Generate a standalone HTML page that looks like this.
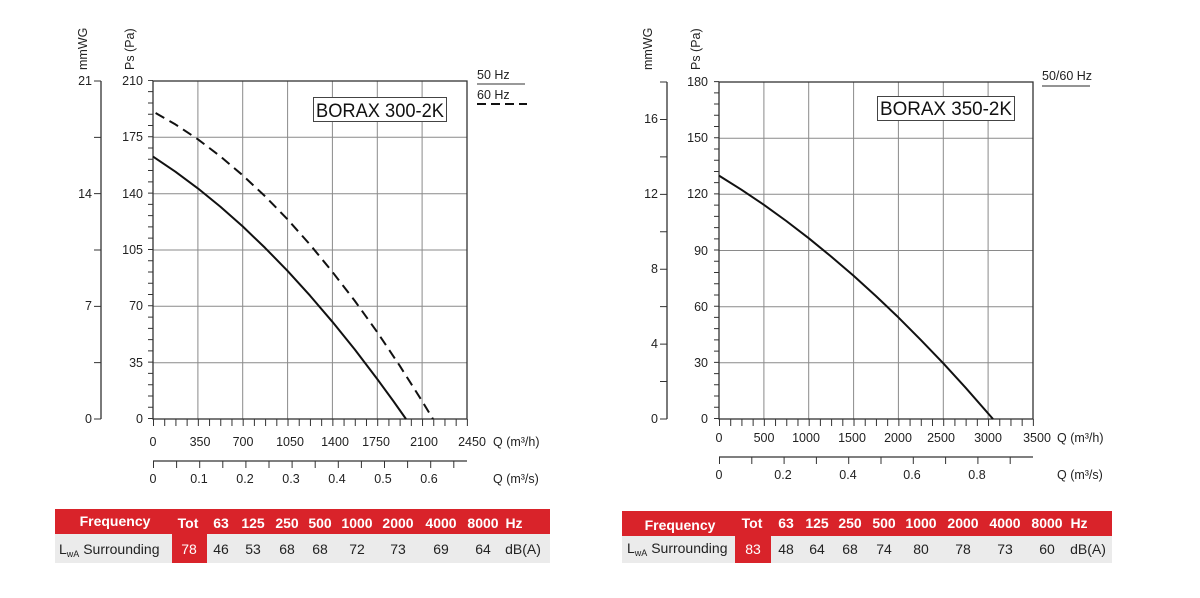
<!DOCTYPE html>
<html><head><meta charset="utf-8"><style>
body{margin:0;background:#fff;}
svg{display:block;font-family:"Liberation Sans",sans-serif;}
.t{font-size:12.5px;fill:#222}
.g{stroke:#8a8a8a;stroke-width:1;fill:none}
.a{stroke:#333;stroke-width:1.3;fill:none}
.h{font-family:"Liberation Sans Narrow","Liberation Sans",sans-serif;font-size:14px;fill:#fff;font-weight:bold}
.d{font-family:"Liberation Sans Narrow","Liberation Sans",sans-serif;font-size:14px;fill:#222}
</style></head><body>
<svg width="1200" height="598" viewBox="0 0 1200 598" xmlns="http://www.w3.org/2000/svg">
<rect width="1200" height="598" fill="#fff"/>
<!-- ===== Chart 1 ===== -->
<g>
<path class="g" d="M197.9 81V419M242.7 81V419M287.6 81V419M332.4 81V419M377.3 81V419M422.1 81V419M153 137.3H467M153 193.7H467M153 250H467M153 306.3H467M153 362.7H467"/>
<rect x="153" y="81" width="314" height="338" class="a"/>
<line x1="150.5" y1="419" x2="150.5" y2="80" stroke="#333" stroke-width="5" stroke-dasharray="1 10.27"/>
<line x1="153" y1="422.5" x2="468" y2="422.5" stroke="#333" stroke-width="7" stroke-dasharray="1 10.21"/>
<line x1="101" y1="81" x2="101" y2="419" class="a"/>
<line x1="97.5" y1="419.5" x2="97.5" y2="80" stroke="#333" stroke-width="7" stroke-dasharray="1 55.33"/>
<text class="t" x="92" y="423" text-anchor="end">0</text>
<text class="t" x="92" y="310" text-anchor="end">7</text>
<text class="t" x="92" y="198" text-anchor="end">14</text>
<text class="t" x="92" y="85" text-anchor="end">21</text>
<text class="t" transform="translate(87,70) rotate(-90)">mmWG</text>
<text class="t" transform="translate(134,70) rotate(-90)">Ps (Pa)</text>
<g text-anchor="end">
<text class="t" x="143" y="423">0</text>
<text class="t" x="143" y="367">35</text>
<text class="t" x="143" y="310">70</text>
<text class="t" x="143" y="254">105</text>
<text class="t" x="143" y="198">140</text>
<text class="t" x="143" y="141">175</text>
<text class="t" x="143" y="85">210</text>
</g>
<g text-anchor="middle">
<text class="t" x="153" y="446">0</text>
<text class="t" x="200" y="446">350</text>
<text class="t" x="243" y="446">700</text>
<text class="t" x="290" y="446">1050</text>
<text class="t" x="335" y="446">1400</text>
<text class="t" x="376" y="446">1750</text>
<text class="t" x="424" y="446">2100</text>
<text class="t" x="472" y="446">2450</text>
</g>
<text class="t" x="493" y="446">Q (m³/h)</text>
<line x1="153" y1="461" x2="467" y2="461" class="a"/>
<line x1="153" y1="464.5" x2="460" y2="464.5" stroke="#333" stroke-width="7" stroke-dasharray="1 22.1"/>
<g text-anchor="middle">
<text class="t" x="153" y="483">0</text>
<text class="t" x="199" y="483">0.1</text>
<text class="t" x="245" y="483">0.2</text>
<text class="t" x="291" y="483">0.3</text>
<text class="t" x="337" y="483">0.4</text>
<text class="t" x="383" y="483">0.5</text>
<text class="t" x="429" y="483">0.6</text>
</g>
<text class="t" x="493" y="483">Q (m³/s)</text>
<rect x="313.5" y="97.5" width="133" height="24" fill="#fff" stroke="#444"/>
<text x="316" y="117" font-size="19" fill="#111" textLength="128" lengthAdjust="spacingAndGlyphs">BORAX 300-2K</text>
<text class="t" x="477" y="79">50 Hz</text>
<line x1="477" y1="84" x2="525" y2="84" stroke="#333" stroke-width="1"/>
<text class="t" x="477" y="99">60 Hz</text>
<line x1="477" y1="104" x2="527" y2="104" stroke="#111" stroke-width="2" stroke-dasharray="9 5"/>
<polyline points="153,156.6 175.4,171.7 197.9,188.4 220.3,206.6 242.7,226.4 265.1,247.9 287.6,270.9 310,295.6 332.4,321.8 354.9,349.6 377.3,379.1 393.3,401 406,419" fill="none" stroke="#111" stroke-width="2" stroke-linejoin="round"/>
<polyline points="155.6,113 175.4,124.4 197.9,139.3 220.3,156.3 242.7,175.3 265.1,196.3 287.6,219.4 310,244.6 332.4,271.9 354.9,301 377.3,332.2 399.7,365.7 422.1,401.1 433,419" fill="none" stroke="#111" stroke-width="2" stroke-dasharray="10 6" stroke-linejoin="round"/>
</g>
<!-- ===== Chart 2 ===== -->
<g>
<path class="g" d="M763.9 82V419M808.7 82V419M853.6 82V419M898.4 82V419M943.3 82V419M988.1 82V419M719 138.2H1033M719 194.3H1033M719 250.5H1033M719 306.7H1033M719 362.8H1033"/>
<rect x="719" y="82" width="314" height="337" class="a"/>
<line x1="716.5" y1="419" x2="716.5" y2="81" stroke="#333" stroke-width="5" stroke-dasharray="1 10.23"/>
<line x1="719" y1="422.5" x2="1034" y2="422.5" stroke="#333" stroke-width="7" stroke-dasharray="1 10.21"/>
<line x1="667" y1="82" x2="667" y2="419" class="a"/>
<line x1="663.5" y1="419.5" x2="663.5" y2="81" stroke="#333" stroke-width="7" stroke-dasharray="1 36.44"/>
<g text-anchor="end">
<text class="t" x="658" y="423">0</text>
<text class="t" x="658" y="348">4</text>
<text class="t" x="658" y="273">8</text>
<text class="t" x="658" y="198">12</text>
<text class="t" x="658" y="123">16</text>
</g>
<text class="t" transform="translate(652,70) rotate(-90)">mmWG</text>
<text class="t" transform="translate(700,70) rotate(-90)">Ps (Pa)</text>
<g text-anchor="end">
<text class="t" x="708" y="423">0</text>
<text class="t" x="708" y="367">30</text>
<text class="t" x="708" y="311">60</text>
<text class="t" x="708" y="255">90</text>
<text class="t" x="708" y="198">120</text>
<text class="t" x="708" y="142">150</text>
<text class="t" x="708" y="86">180</text>
</g>
<g text-anchor="middle">
<text class="t" x="719" y="442">0</text>
<text class="t" x="764" y="442">500</text>
<text class="t" x="806" y="442">1000</text>
<text class="t" x="852" y="442">1500</text>
<text class="t" x="898" y="442">2000</text>
<text class="t" x="941" y="442">2500</text>
<text class="t" x="988" y="442">3000</text>
<text class="t" x="1037" y="442">3500</text>
</g>
<text class="t" x="1057" y="442">Q (m³/h)</text>
<line x1="719" y1="457" x2="1033" y2="457" class="a"/>
<line x1="719" y1="460.5" x2="1030" y2="460.5" stroke="#333" stroke-width="7" stroke-dasharray="1 31.3"/>
<g text-anchor="middle">
<text class="t" x="719" y="479">0</text>
<text class="t" x="783" y="479">0.2</text>
<text class="t" x="848" y="479">0.4</text>
<text class="t" x="912" y="479">0.6</text>
<text class="t" x="977" y="479">0.8</text>
</g>
<text class="t" x="1057" y="479">Q (m³/s)</text>
<rect x="877.5" y="96.5" width="137" height="24" fill="#fff" stroke="#444"/>
<text x="880" y="115" font-size="19" fill="#111" textLength="132" lengthAdjust="spacingAndGlyphs">BORAX 350-2K</text>
<text class="t" x="1042" y="80">50/60 Hz</text>
<line x1="1042" y1="86" x2="1090" y2="86" stroke="#555" stroke-width="1.3"/>
<polyline points="719,175.6 741.4,189.7 763.9,204.8 786.3,221 808.7,238.2 831.1,256.5 853.6,275.8 876,296.1 898.4,317.4 920.8,339.9 943.3,363.3 965.7,387.8 993,419" fill="none" stroke="#111" stroke-width="2" stroke-linejoin="round"/>
</g>
<!-- ===== Table 1 ===== -->
<rect x="55" y="509" width="495" height="25" fill="#d9232a"/>
<rect x="55" y="534" width="495" height="29" fill="#ebebeb"/>
<rect x="172" y="534" width="35" height="29" fill="#d9232a"/>
<g text-anchor="middle">
<text class="h" x="115" y="526">Frequency</text>
<text class="h" x="188" y="528">Tot</text>
<text class="h" x="221" y="528">63</text>
<text class="h" x="253" y="528">125</text>
<text class="h" x="287" y="528">250</text>
<text class="h" x="320" y="528">500</text>
<text class="h" x="357" y="528">1000</text>
<text class="h" x="398" y="528">2000</text>
<text class="h" x="441" y="528">4000</text>
<text class="h" x="483" y="528">8000</text>
<text class="h" x="514" y="528">Hz</text>
<text class="d" x="189" y="554" style="fill:#fff">78</text>
<text class="d" x="221" y="554">46</text>
<text class="d" x="253" y="554">53</text>
<text class="d" x="287" y="554">68</text>
<text class="d" x="320" y="554">68</text>
<text class="d" x="357" y="554">72</text>
<text class="d" x="398" y="554">73</text>
<text class="d" x="441" y="554">69</text>
<text class="d" x="483" y="554">64</text>
<text class="d" x="523" y="554">dB(A)</text>
</g>
<text class="d" x="59" y="554">L<tspan font-size="9" dy="3">wA</tspan><tspan dy="-3"> Surrounding</tspan></text>
<!-- ===== Table 2 ===== -->
<rect x="622" y="511" width="490" height="25" fill="#d9232a"/>
<rect x="622" y="536" width="490" height="27" fill="#ebebeb"/>
<rect x="735" y="536" width="36" height="27" fill="#d9232a"/>
<g text-anchor="middle">
<text class="h" x="680" y="530">Frequency</text>
<text class="h" x="752" y="528">Tot</text>
<text class="h" x="786" y="528">63</text>
<text class="h" x="817" y="528">125</text>
<text class="h" x="850" y="528">250</text>
<text class="h" x="884" y="528">500</text>
<text class="h" x="921" y="528">1000</text>
<text class="h" x="963" y="528">2000</text>
<text class="h" x="1005" y="528">4000</text>
<text class="h" x="1047" y="528">8000</text>
<text class="h" x="1079" y="528">Hz</text>
<text class="d" x="753" y="554" style="fill:#fff">83</text>
<text class="d" x="786" y="554">48</text>
<text class="d" x="817" y="554">64</text>
<text class="d" x="850" y="554">68</text>
<text class="d" x="884" y="554">74</text>
<text class="d" x="921" y="554">80</text>
<text class="d" x="963" y="554">78</text>
<text class="d" x="1005" y="554">73</text>
<text class="d" x="1047" y="554">60</text>
<text class="d" x="1088" y="554">dB(A)</text>
</g>
<text class="d" x="627" y="553">L<tspan font-size="9" dy="3">wA</tspan><tspan dy="-3"> Surrounding</tspan></text>
</svg>
</body></html>
